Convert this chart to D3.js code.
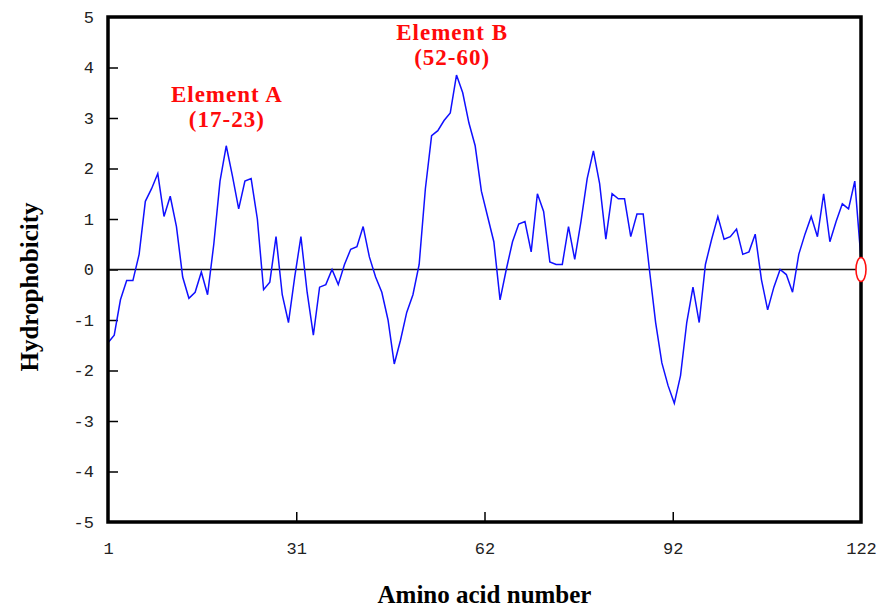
<!DOCTYPE html>
<html>
<head>
<meta charset="utf-8">
<script src="https://cdn.jsdelivr.net/npm/d3@7/dist/d3.min.js"></script>
<style>
  html, body { margin: 0; padding: 0; background: #fff; }
  svg { display: block; }
</style>
</head>
<body>
<div id="chart"></div>
<script>
// ---- data ----
const residues = d3.range(1, 123); // amino acid numbers 1..122
const hydrophobicity = [
  -1.45, -1.3, -0.6, -0.22, -0.22, 0.3, 1.35, 1.6, 1.9, 1.05,
  1.45, 0.85, -0.15, -0.57, -0.45, -0.05, -0.5, 0.5, 1.75, 2.45,
  1.85, 1.2, 1.75, 1.8, 1.0, -0.4, -0.25, 0.65, -0.5, -1.05,
  -0.15, 0.65, -0.45, -1.3, -0.35, -0.3, 0.0, -0.3, 0.1, 0.4,
  0.45, 0.85, 0.25, -0.15, -0.45, -1.0, -1.87, -1.4, -0.85, -0.5,
  0.1, 1.6, 2.65, 2.75, 2.95, 3.1, 3.85, 3.5, 2.9, 2.45,
  1.55, 1.05, 0.55, -0.6, 0.0, 0.55, 0.9, 0.95, 0.35, 1.5,
  1.15, 0.15, 0.1, 0.1, 0.85, 0.2, 0.95, 1.8, 2.35, 1.7,
  0.6, 1.5, 1.4, 1.4, 0.65, 1.1, 1.1, 0.0, -1.05, -1.85,
  -2.3, -2.65, -2.1, -1.05, -0.35, -1.05, 0.1, 0.6, 1.05, 0.6,
  0.65, 0.8, 0.3, 0.35, 0.7, -0.2, -0.8, -0.35, 0.0, -0.1,
  -0.45, 0.3, 0.7, 1.05, 0.65, 1.5, 0.55, 0.95, 1.3, 1.2,
  1.75, 0.2
];
const xTickValues = [1, 31.25, 61.5, 91.75, 122];
const xTickLabels = ["1", "31", "62", "92", "122"];
const yTickValues = [5, 4, 3, 2, 1, 0, -1, -2, -3, -4, -5];
const yTickLabels = ["5", "4", "3", "2", "1", "0", "-1", "-2", "-3", "-4", "-5"];
const annotations = [
  { title: "Element A", range: "(17-23)", x: 20.1, y: 3.32 },
  { title: "Element B", range: "(52-60)", x: 56.3, y: 4.55 }
];
const endMarker = { x: 122, y: 0 };

// ---- layout ----
const W = 881, H = 608;
const mLeft = 108, mRight = 861, mTop = 17, mBottom = 522;

const svg = d3.select("#chart").append("svg")
  .attr("width", W).attr("height", H);

const x = d3.scaleLinear().domain([1, 122]).range([mLeft, mRight]);
const y = d3.scaleLinear().domain([-5, 5]).range([mBottom, mTop]);

// y axis (ticks inside)
const yAxis = d3.axisLeft(y)
  .tickValues(yTickValues)
  .tickFormat((d, i) => yTickLabels[i])
  .tickSize(-10)
  .tickPadding(14);
const gy = svg.append("g").attr("transform", `translate(${mLeft},0)`).call(yAxis);
gy.select(".domain").remove();
gy.selectAll(".tick line").attr("stroke", "#000").attr("stroke-width", 1.5)
  .filter(d => d === 5 || d === -5).remove();
gy.selectAll(".tick text")
  .attr("font-family", "Liberation Mono, DejaVu Sans Mono, monospace")
  .attr("font-size", 17).attr("fill", "#222");

// x axis (ticks inside)
const xAxis = d3.axisBottom(x)
  .tickValues(xTickValues)
  .tickFormat((d, i) => xTickLabels[i])
  .tickSize(-10)
  .tickPadding(20);
const gx = svg.append("g").attr("transform", `translate(0,${mBottom})`).call(xAxis);
gx.select(".domain").remove();
gx.selectAll(".tick line").attr("stroke", "#000").attr("stroke-width", 1.5)
  .filter(d => d === 1 || d === 122).remove();
gx.selectAll(".tick text")
  .attr("font-family", "Liberation Mono, DejaVu Sans Mono, monospace")
  .attr("font-size", 17).attr("fill", "#222");

// zero line
svg.append("line")
  .attr("x1", x(1)).attr("x2", x(122))
  .attr("y1", y(0)).attr("y2", y(0))
  .attr("stroke", "#111").attr("stroke-width", 1.6);

// data line
const line = d3.line()
  .x((d, i) => x(residues[i]))
  .y(d => y(d));
svg.append("path")
  .datum(hydrophobicity)
  .attr("d", line)
  .attr("fill", "none")
  .attr("stroke", "#1010ff")
  .attr("stroke-width", 1.5)
  .attr("stroke-linejoin", "miter");

// frame
svg.append("rect")
  .attr("x", mLeft).attr("y", mTop)
  .attr("width", mRight - mLeft).attr("height", mBottom - mTop)
  .attr("fill", "none").attr("stroke", "#000").attr("stroke-width", 3.5);

// end marker
svg.append("ellipse")
  .attr("cx", x(endMarker.x)).attr("cy", y(endMarker.y))
  .attr("rx", 5).attr("ry", 12)
  .attr("fill", "#fff").attr("stroke", "#ff1010").attr("stroke-width", 1.6);

// annotations
const ann = svg.selectAll("g.ann").data(annotations).enter().append("g").attr("class", "ann");
ann.append("text")
  .attr("x", d => x(d.x)).attr("y", d => y(d.y))
  .attr("text-anchor", "middle")
  .attr("font-family", "Liberation Serif, Times New Roman, serif")
  .attr("font-weight", "bold").attr("font-size", 23)
  .attr("letter-spacing", 1)
  .attr("fill", "#ff0a0a")
  .text(d => d.title);
ann.append("text")
  .attr("x", d => x(d.x)).attr("y", d => y(d.y) + 25)
  .attr("text-anchor", "middle")
  .attr("font-family", "Liberation Serif, Times New Roman, serif")
  .attr("font-weight", "bold").attr("font-size", 23)
  .attr("letter-spacing", 1)
  .attr("fill", "#ff0a0a")
  .text(d => d.range);

// axis titles
svg.append("text")
  .attr("x", (mLeft + mRight) / 2).attr("y", 603)
  .attr("text-anchor", "middle")
  .attr("font-family", "Liberation Serif, Times New Roman, serif")
  .attr("font-weight", "bold").attr("font-size", 25)
  .attr("fill", "#000")
  .text("Amino acid number");

svg.append("text")
  .attr("transform", `translate(38,287) rotate(-90)`)
  .attr("text-anchor", "middle")
  .attr("font-family", "Liberation Serif, Times New Roman, serif")
  .attr("font-weight", "bold").attr("font-size", 25)
  .attr("fill", "#000")
  .text("Hydrophobicity");
</script>
</body>
</html>
